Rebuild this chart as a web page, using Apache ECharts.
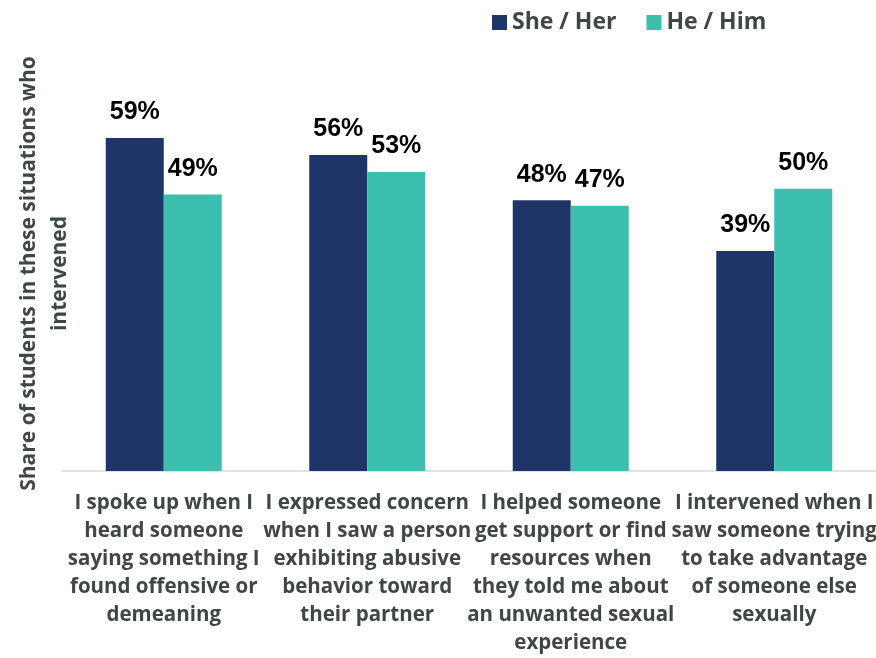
<!DOCTYPE html>
<html><head><meta charset="utf-8">
<script src="https://cdn.jsdelivr.net/npm/echarts@6/dist/echarts.min.js"></script>
<style>html,body{margin:0;padding:0;background:#fff}#c{width:876px;height:658px}</style>
</head><body><div id="c"></div>
<script>
const categories = [
  "I spoke up when I\nheard someone\nsaying something I\nfound offensive or\ndemeaning",
  "I expressed concern\nwhen I saw a person\nexhibiting abusive\nbehavior toward\ntheir partner",
  "I helped someone\nget support or find\nresources when\nthey told me about\nan unwanted sexual\nexperience",
  "I intervened when I\nsaw someone trying\nto take advantage\nof someone else\nsexually"
];
const sheHer = [59, 56, 48, 39];
const heHim = [49, 53, 47, 50];
const seriesNames = ["She / Her", "He / Him"];
const yAxisName = "Share of students in these situations who\nintervened";

const textColor = "#3F4744";
const labelStyle = {show:true, position:'top', distance:13, formatter:'{c}%', color:'#000', fontFamily:'Liberation Sans', fontWeight:'bold', fontSize:25};
const chart = echarts.init(document.getElementById('c'));
chart.setOption({
  animation:false,
  legend:{top:6, left:487, itemWidth:15, itemHeight:15, itemGap:30, icon:'rect',
    textStyle:{color:textColor, fontFamily:'Open Sans', fontWeight:'bold', fontSize:23}},
  grid:{left:62, right:0, top:76, bottom:187, containLabel:false, outerBoundsMode:'none'},
  xAxis:{type:'category', data:categories,
    axisLine:{lineStyle:{color:'#D9D9D9', width:1.5}}, axisTick:{show:false},
    axisLabel:{interval:0, margin:18, color:textColor, fontFamily:'Open Sans', fontWeight:'bold', fontSize:20.5, lineHeight:28}},
  yAxis:{type:'value', min:0, max:70, show:true, axisLine:{show:false}, axisTick:{show:false}, axisLabel:{show:false}, splitLine:{show:false},
    name:yAxisName, nameLocation:'middle', nameGap:-14, nameRotate:90,
    nameTextStyle:{color:textColor, fontFamily:'Open Sans', fontWeight:'bold', fontSize:21, lineHeight:31}},
  series:[
    {name:seriesNames[0], type:'bar', data:sheHer, barGap:'0%', barCategoryGap:'43%', itemStyle:{color:'#1F3468'}, label:labelStyle},
    {name:seriesNames[1], type:'bar', data:heHim, itemStyle:{color:'#3CBFAE'}, label:labelStyle}
  ]
});
</script></body></html>
